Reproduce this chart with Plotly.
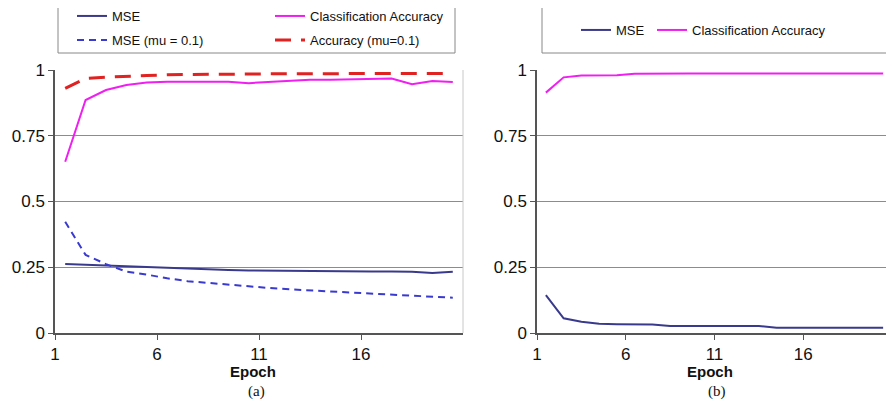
import plotly.graph_objects as go

epochs = list(range(1, 21))
x_tick_labels = ["1", "6", "11", "16"]
x_tick_positions = [0.5, 5.5, 10.5, 15.5]
y_tick_values = [0, 0.25, 0.5, 0.75, 1]
y_tick_labels = ["0", "0.25", "0.5", "0.75", "1"]

# Panel (a)
mse_a = [0.262, 0.259, 0.257, 0.255, 0.250, 0.247, 0.244, 0.242, 0.240, 0.238,
         0.237, 0.236, 0.235, 0.234, 0.234, 0.234, 0.234, 0.233, 0.228, 0.233]
acc_a = [0.651, 0.886, 0.924, 0.943, 0.952, 0.955, 0.955, 0.955, 0.955, 0.950,
         0.955, 0.960, 0.963, 0.963, 0.964, 0.965, 0.968, 0.946, 0.958, 0.954]
mse_mu_a = [0.423, 0.297, 0.262, 0.233, 0.222, 0.208, 0.197, 0.190, 0.185, 0.177,
            0.171, 0.166, 0.162, 0.157, 0.154, 0.150, 0.146, 0.142, 0.139, 0.134]
acc_mu_a = [0.930, 0.968, 0.973, 0.977, 0.979, 0.982, 0.983, 0.983, 0.983, 0.984,
            0.986, 0.986, 0.986, 0.986, 0.986, 0.986, 0.986, 0.987, 0.987, 0.987]

# Panel (b)
mse_b = [0.144, 0.056, 0.043, 0.035, 0.033, 0.033, 0.032, 0.027, 0.027, 0.027,
         0.027, 0.027, 0.027, 0.020, 0.020, 0.020, 0.020, 0.020, 0.020, 0.020]
acc_b = [0.914, 0.972, 0.979, 0.980, 0.980, 0.986, 0.987, 0.987, 0.987, 0.987,
         0.987, 0.987, 0.987, 0.987, 0.987, 0.987, 0.987, 0.987, 0.987, 0.987]

# page body has an 8px margin, so the figure is drawn slightly smaller and offset
OFF = 8
W, H = 894 - OFF, 402 - OFF
C_MSE = "#3a3a8c"
C_MSE_MU = "#3a3ad0"
C_ACC = "#f01ef0"
C_ACC_MU = "#e02222"

fig = go.Figure()
fig.add_trace(go.Scatter(x=epochs, y=mse_a, mode="lines", name="MSE",
                         line=dict(color=C_MSE, width=2), xaxis="x", yaxis="y", legend="legend"))
fig.add_trace(go.Scatter(x=epochs, y=mse_mu_a, mode="lines", name="MSE (mu = 0.1)",
                         line=dict(color=C_MSE_MU, width=2, dash="7px,5px"), xaxis="x", yaxis="y", legend="legend2"))
fig.add_trace(go.Scatter(x=epochs, y=acc_a, mode="lines", name="Classification Accuracy",
                         line=dict(color=C_ACC, width=2), xaxis="x", yaxis="y", legend="legend3"))
fig.add_trace(go.Scatter(x=epochs, y=acc_mu_a, mode="lines", name="Accuracy (mu=0.1)",
                         line=dict(color=C_ACC_MU, width=3, dash="16px,10px"), xaxis="x", yaxis="y", legend="legend4"))
fig.add_trace(go.Scatter(x=epochs, y=mse_b, mode="lines", name="MSE",
                         line=dict(color=C_MSE, width=2), xaxis="x2", yaxis="y2", legend="legend5"))
fig.add_trace(go.Scatter(x=epochs, y=acc_b, mode="lines", name="Classification Accuracy",
                         line=dict(color=C_ACC, width=2), xaxis="x2", yaxis="y2", legend="legend6"))

def px(v):
    return (v - OFF) / W

def py(v):
    return 1 - (v - OFF) / H

ydom = [py(333), py(70)]
axis_font = dict(family="Liberation Sans, Arial, sans-serif", size=17, color="#111")

def xaxis(dom, anchor):
    return dict(domain=dom, anchor=anchor, range=[0.5, 20.5], tickmode="array",
                tickvals=x_tick_positions, ticktext=x_tick_labels, showgrid=False,
                zeroline=False, showline=True, linecolor="#555", linewidth=1.5,
                ticks="outside", ticklen=5, tickcolor="#555", tickfont=axis_font,
                fixedrange=True)

def yaxis(anchor):
    return dict(domain=ydom, anchor=anchor, range=[0, 1], tickmode="array",
                tickvals=y_tick_values, ticktext=y_tick_labels, showgrid=True,
                gridcolor="#8c8c8c", gridwidth=1.3, zeroline=False, showline=True,
                linecolor="#555", linewidth=1.5, ticks="outside", ticklen=5,
                tickcolor="#555", tickfont=axis_font, fixedrange=True)

leg_font = dict(family="Liberation Sans, Arial, sans-serif", size=13, color="#111")

def leg(x, y):
    return dict(x=x, y=y, xanchor="left", yanchor="middle", bgcolor="rgba(0,0,0,0)",
                borderwidth=0, font=leg_font, itemclick=False, itemdoubleclick=False)

fig.update_layout(
    width=W, height=H, margin=dict(l=0, r=0, t=0, b=0, autoexpand=False),
    paper_bgcolor="white", plot_bgcolor="white",
    xaxis=xaxis([px(55), px(463)], "y"),
    yaxis=yaxis("x"),
    xaxis2=xaxis([px(537), px(892)], "y2"),
    yaxis2=yaxis("x2"),
    showlegend=True,
    legend=leg(px(72), py(16)),
    legend2=leg(px(72), py(40)),
    legend3=leg(px(270), py(16)),
    legend4=leg(px(270), py(40)),
    legend5=leg(px(576), py(30)),
    legend6=leg(px(652), py(30)),
    shapes=[
        dict(type="rect", xref="paper", yref="paper", x0=px(58), x1=px(455), y0=py(53), y1=py(6),
             line=dict(color="#888", width=1)),
        dict(type="rect", xref="paper", yref="paper", x0=px(542), x1=px(888), y0=py(53), y1=py(7),
             line=dict(color="#888", width=1)),
        dict(type="line", xref="paper", yref="paper", x0=px(463), x1=px(463), y0=py(333), y1=py(70),
             line=dict(color="#c8c8c8", width=1)),
        dict(type="line", xref="paper", yref="paper", x0=px(892), x1=px(892), y0=py(333), y1=py(70),
             line=dict(color="#c8c8c8", width=1)),
    ],
    annotations=[
        dict(text="<b>Epoch</b>", xref="paper", yref="paper", x=px(253), y=py(371),
             yanchor="middle", xanchor="center", showarrow=False,
             font=dict(family="Liberation Sans, Arial, sans-serif", size=15, color="#111")),
        dict(text="(a)", xref="paper", yref="paper", x=px(257), y=py(391),
             yanchor="middle", xanchor="center", showarrow=False,
             font=dict(family="Liberation Serif, Times New Roman, serif", size=15, color="#111")),
        dict(text="<b>Epoch</b>", xref="paper", yref="paper", x=px(710), y=py(371),
             yanchor="middle", xanchor="center", showarrow=False,
             font=dict(family="Liberation Sans, Arial, sans-serif", size=15, color="#111")),
        dict(text="(b)", xref="paper", yref="paper", x=px(717), y=py(391),
             yanchor="middle", xanchor="center", showarrow=False,
             font=dict(family="Liberation Serif, Times New Roman, serif", size=15, color="#111")),
    ],
)

fig.write_html("out.html")
